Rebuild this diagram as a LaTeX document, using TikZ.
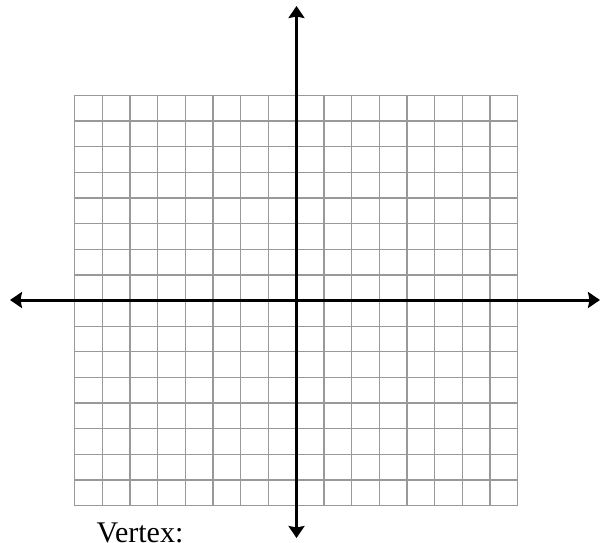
\documentclass[tikz,border=0pt]{standalone}
\usepackage{fontspec}
\setmainfont{Liberation Serif}
\usetikzlibrary{arrows.meta}
\begin{document}
\begin{tikzpicture}[x=1pt,y=-1pt,
  gridline/.style={draw=black!40,line width=1.3pt},
  axis/.style={draw=black,line width=3pt,-{Stealth[length=12pt,width=16pt,inset=1.5pt]}},
  label/.style={font=\fontsize{30}{33}\selectfont,inner sep=0pt}]
\useasboundingbox (0,0) rectangle (611,542);
% grid
\foreach \i in {0,...,16} {
  \draw[gridline] ({74.7+\i*27.6875},95.3) -- ({74.7+\i*27.6875},505.7);
  \draw[gridline] (74.7,{95.3+\i*25.65}) -- (517.7,{95.3+\i*25.65});
}
% axes
\coordinate (o) at (296.5,300);
\coordinate (top) at (296.5,6);
\coordinate (bot) at (296.5,538);
\coordinate (lft) at (10,300);
\coordinate (rgt) at (600,300);
\draw[axis] (o) -- (top);
\draw[axis] (o) -- (bot);
\draw[axis] (o) -- (lft);
\draw[axis] (o) -- (rgt);
\node[label,anchor=base west] (vertex) at (96.5,542.5) {Vertex:};
\end{tikzpicture}
\end{document}
